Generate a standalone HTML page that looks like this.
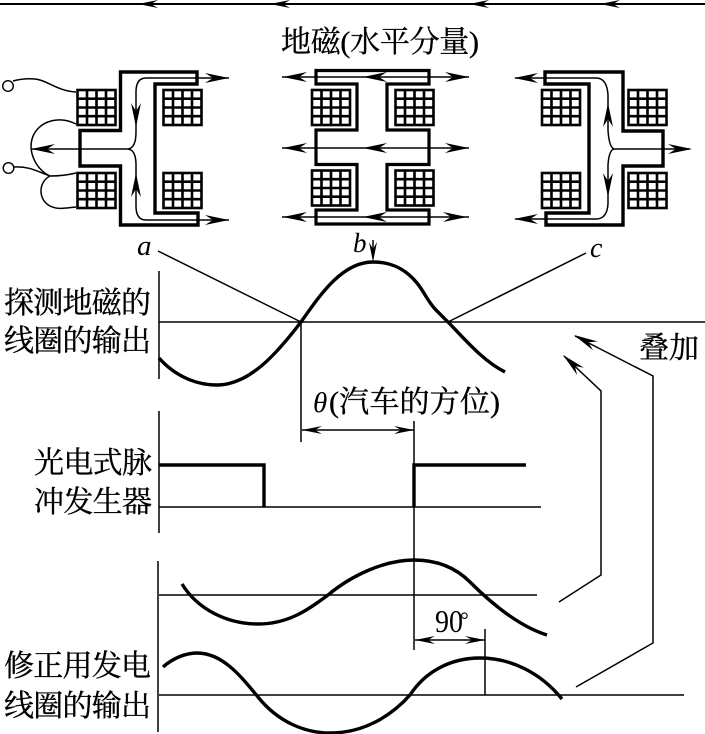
<!DOCTYPE html>
<html><head><meta charset="utf-8"><style>
html,body{margin:0;padding:0;background:#fff}
svg{display:block}
text{font-family:"Liberation Serif","Noto Serif CJK SC",serif;fill:#000}
.c{stroke:#000;stroke-width:.35}
</style></head><body>
<svg width="705" height="734" viewBox="0 0 705 734" xmlns="http://www.w3.org/2000/svg">
<defs>
<path id="a" d="M0 0L-24 -5L-16 0L-24 5Z" fill="#000"/>
<path id="s" d="M0 0L-20 -4L-13 0L-20 4Z" fill="#000"/>
<g id="coil" fill="none" stroke="#000" stroke-width="2.600">
<rect x="0" y="0" width="38" height="35"/>
<path d="M9.500 0V35M19 0V35M28.500 0V35M0 8.700H38M0 17.500H38M0 26.200H38"/>
</g>
</defs>
<rect width="705" height="734" fill="#fff"/>

<path d="M0 4H705" stroke="#000" stroke-width="2"/>
<use href="#s" transform="translate(138,4) rotate(180)"/>
<use href="#s" transform="translate(270,4) rotate(180)"/>
<use href="#s" transform="translate(469,4) rotate(180)"/>
<use href="#s" transform="translate(600,4) rotate(180)"/>

<text class="c" x="281" y="52" font-size="30" textLength="198">地磁(水平分量)</text>

<g fill="none" stroke="#000" stroke-width="3.400" stroke-linejoin="miter">
<path d="M197 72H120.500V130.500H80V166H120.500V225H198V213H155V84H197Z"/>
<path d="M316 70.500H429V84H387V130H429V164.500H387V210H429V224H316V210H357V164.500H316V130H357V84H316Z" stroke-width="3.200"/>
<path d="M545 72H623V131H663V166H623V225H546V213H589V84H545Z"/>
</g>
<use href="#coil" x="77.500" y="90"/><use href="#coil" x="163.500" y="90"/>
<use href="#coil" x="77.500" y="173"/><use href="#coil" x="163.500" y="173"/>
<use href="#coil" x="312" y="90"/><use href="#coil" x="395.500" y="90"/>
<use href="#coil" x="312" y="170.500"/><use href="#coil" x="395.500" y="170.500"/>
<use href="#coil" x="542" y="90"/><use href="#coil" x="628.500" y="90"/>
<use href="#coil" x="542" y="173"/><use href="#coil" x="628.500" y="173"/>

<g fill="none" stroke="#000" stroke-width="1.500">
<path d="M229 78H146Q136 78 136 92V132Q136 148 128 149H32"/>
<path d="M229 220H146Q136 220 136 206V165Q136 150 128 149"/>
<path d="M13 81Q24 78 35 79C47 80 57 91 76 92"/>
<path d="M14 167C30 166 38 172 50 176"/>
<path d="M76 124C60 116 42 120 34 134C26 150 36 170 50 176C38 182 38 200 50 206C58 210 65 208 76 207"/>
<path d="M50 176C60 176 68 175 76 173"/>
<path d="M282 77H469M282 148H469M282 217H469"/>
<path d="M515 78H596Q607 78 608 95V130Q609 147 614 149H690"/>
<path d="M515 219H596Q607 219 608 204V165Q609 150 614 149"/>
</g>
<circle cx="8" cy="86" r="5.300" fill="#fff" stroke="#000" stroke-width="1.400"/>
<circle cx="8.500" cy="168" r="5.300" fill="#fff" stroke="#000" stroke-width="1.400"/>
<use href="#a" transform="translate(229,78)"/><use href="#a" transform="translate(229,220)"/>
<use href="#a" transform="translate(31,149) rotate(180)"/>
<use href="#a" transform="translate(136,127) rotate(90)"/>
<use href="#a" transform="translate(136,173) rotate(-90)"/>
<use href="#a" transform="translate(283,77) rotate(180)"/><use href="#a" transform="translate(363,77) rotate(180)"/><use href="#a" transform="translate(469,77)"/>
<use href="#a" transform="translate(283,148) rotate(180)"/><use href="#a" transform="translate(363,148) rotate(180)"/><use href="#a" transform="translate(469,148)"/>
<use href="#a" transform="translate(283,217) rotate(180)"/><use href="#a" transform="translate(363,217) rotate(180)"/><use href="#a" transform="translate(467,217)"/>
<use href="#a" transform="translate(514,78) rotate(180)"/><use href="#a" transform="translate(514,219) rotate(180)"/>
<use href="#a" transform="translate(692,149)"/>
<use href="#a" transform="translate(608,103) rotate(-90)"/>
<use href="#a" transform="translate(608,197) rotate(90)"/>

<text x="137" y="255" font-size="29" font-style="italic">a</text>
<text x="353" y="252" font-size="27" font-style="italic">b</text>
<text x="590" y="257" font-size="28" font-style="italic">c</text>
<text class="c" x="4" y="313" font-size="30" textLength="147">探测地磁的</text>
<text class="c" x="4" y="351" font-size="30" textLength="147">线圈的输出</text>
<text class="c" x="34" y="473" font-size="30" textLength="118">光电式脉</text>
<text class="c" x="34" y="512" font-size="30" textLength="118">冲发生器</text>
<text class="c" x="4" y="676" font-size="30" textLength="147">修正用发电</text>
<text class="c" x="4" y="716" font-size="30" textLength="147">线圈的输出</text>
<text class="c" x="639" y="358" font-size="30" textLength="60">叠加</text>
<text x="313" y="412" font-size="29" font-style="italic">θ</text>
<text class="c" x="329" y="412" font-size="30" textLength="171">(汽车的方位)</text>
<text x="435" y="632" font-size="32" textLength="28" lengthAdjust="spacingAndGlyphs">90</text>
<text x="460" y="627" font-size="22">°</text>

<g fill="none" stroke="#000" stroke-width="1.500">
<path d="M159 271V379M159 411V533M158 561V732"/>
<path d="M159 322H705"/>
<path d="M158 251L301 322M448 322L586 253"/>
<path d="M301 322V442"/>
<path d="M414 421V650"/>
<path d="M302 430H414"/>
<path d="M159 507H541"/>
<path d="M159 595H537"/>
<path d="M159 695H684"/>
<path d="M415 640H485M485 629V695"/>
<path d="M373 240V258"/>
<path d="M564 356L601 391V575L559 602"/>
<path d="M575 336L653 376V643L576 687"/>
</g>
<use href="#s" transform="translate(302,430) rotate(180)"/>
<use href="#s" transform="translate(414,430)"/>
<use href="#s" transform="translate(415,640) rotate(180)"/>
<use href="#s" transform="translate(485,640)"/>
<use href="#s" transform="translate(373,262) rotate(90)"/>
<use href="#a" transform="translate(563,355) rotate(223)"/>
<use href="#a" transform="translate(574,335) rotate(207)"/>

<g fill="none" stroke="#000" stroke-width="3.400">
<path d="M159 358C175 376 196 385 217 385C250 385 278 352 301 322C320 295 342 262 373 262C395 262 408 272 417 283C425 293 428 302 436 310C442 316 445 319 450 324C468 343 485 362 505 372"/>
<path d="M159 465H264V507"/>
<path d="M526 465H414V507"/>
<path d="M182 584C198 610 228 624 258 624C290 624 310 608 328 595C352 575 385 560 414 560C440 560 458 570 470 582C490 602 518 626 547 635"/>
<path d="M163 667C173 658 186 653 197 653C222 653 240 675 258 697C278 722 305 733 330 733C365 733 392 715 410 695C425 672 450 658 480 658C510 658 540 672 562 699"/>
</g>
</svg>
</body></html>
